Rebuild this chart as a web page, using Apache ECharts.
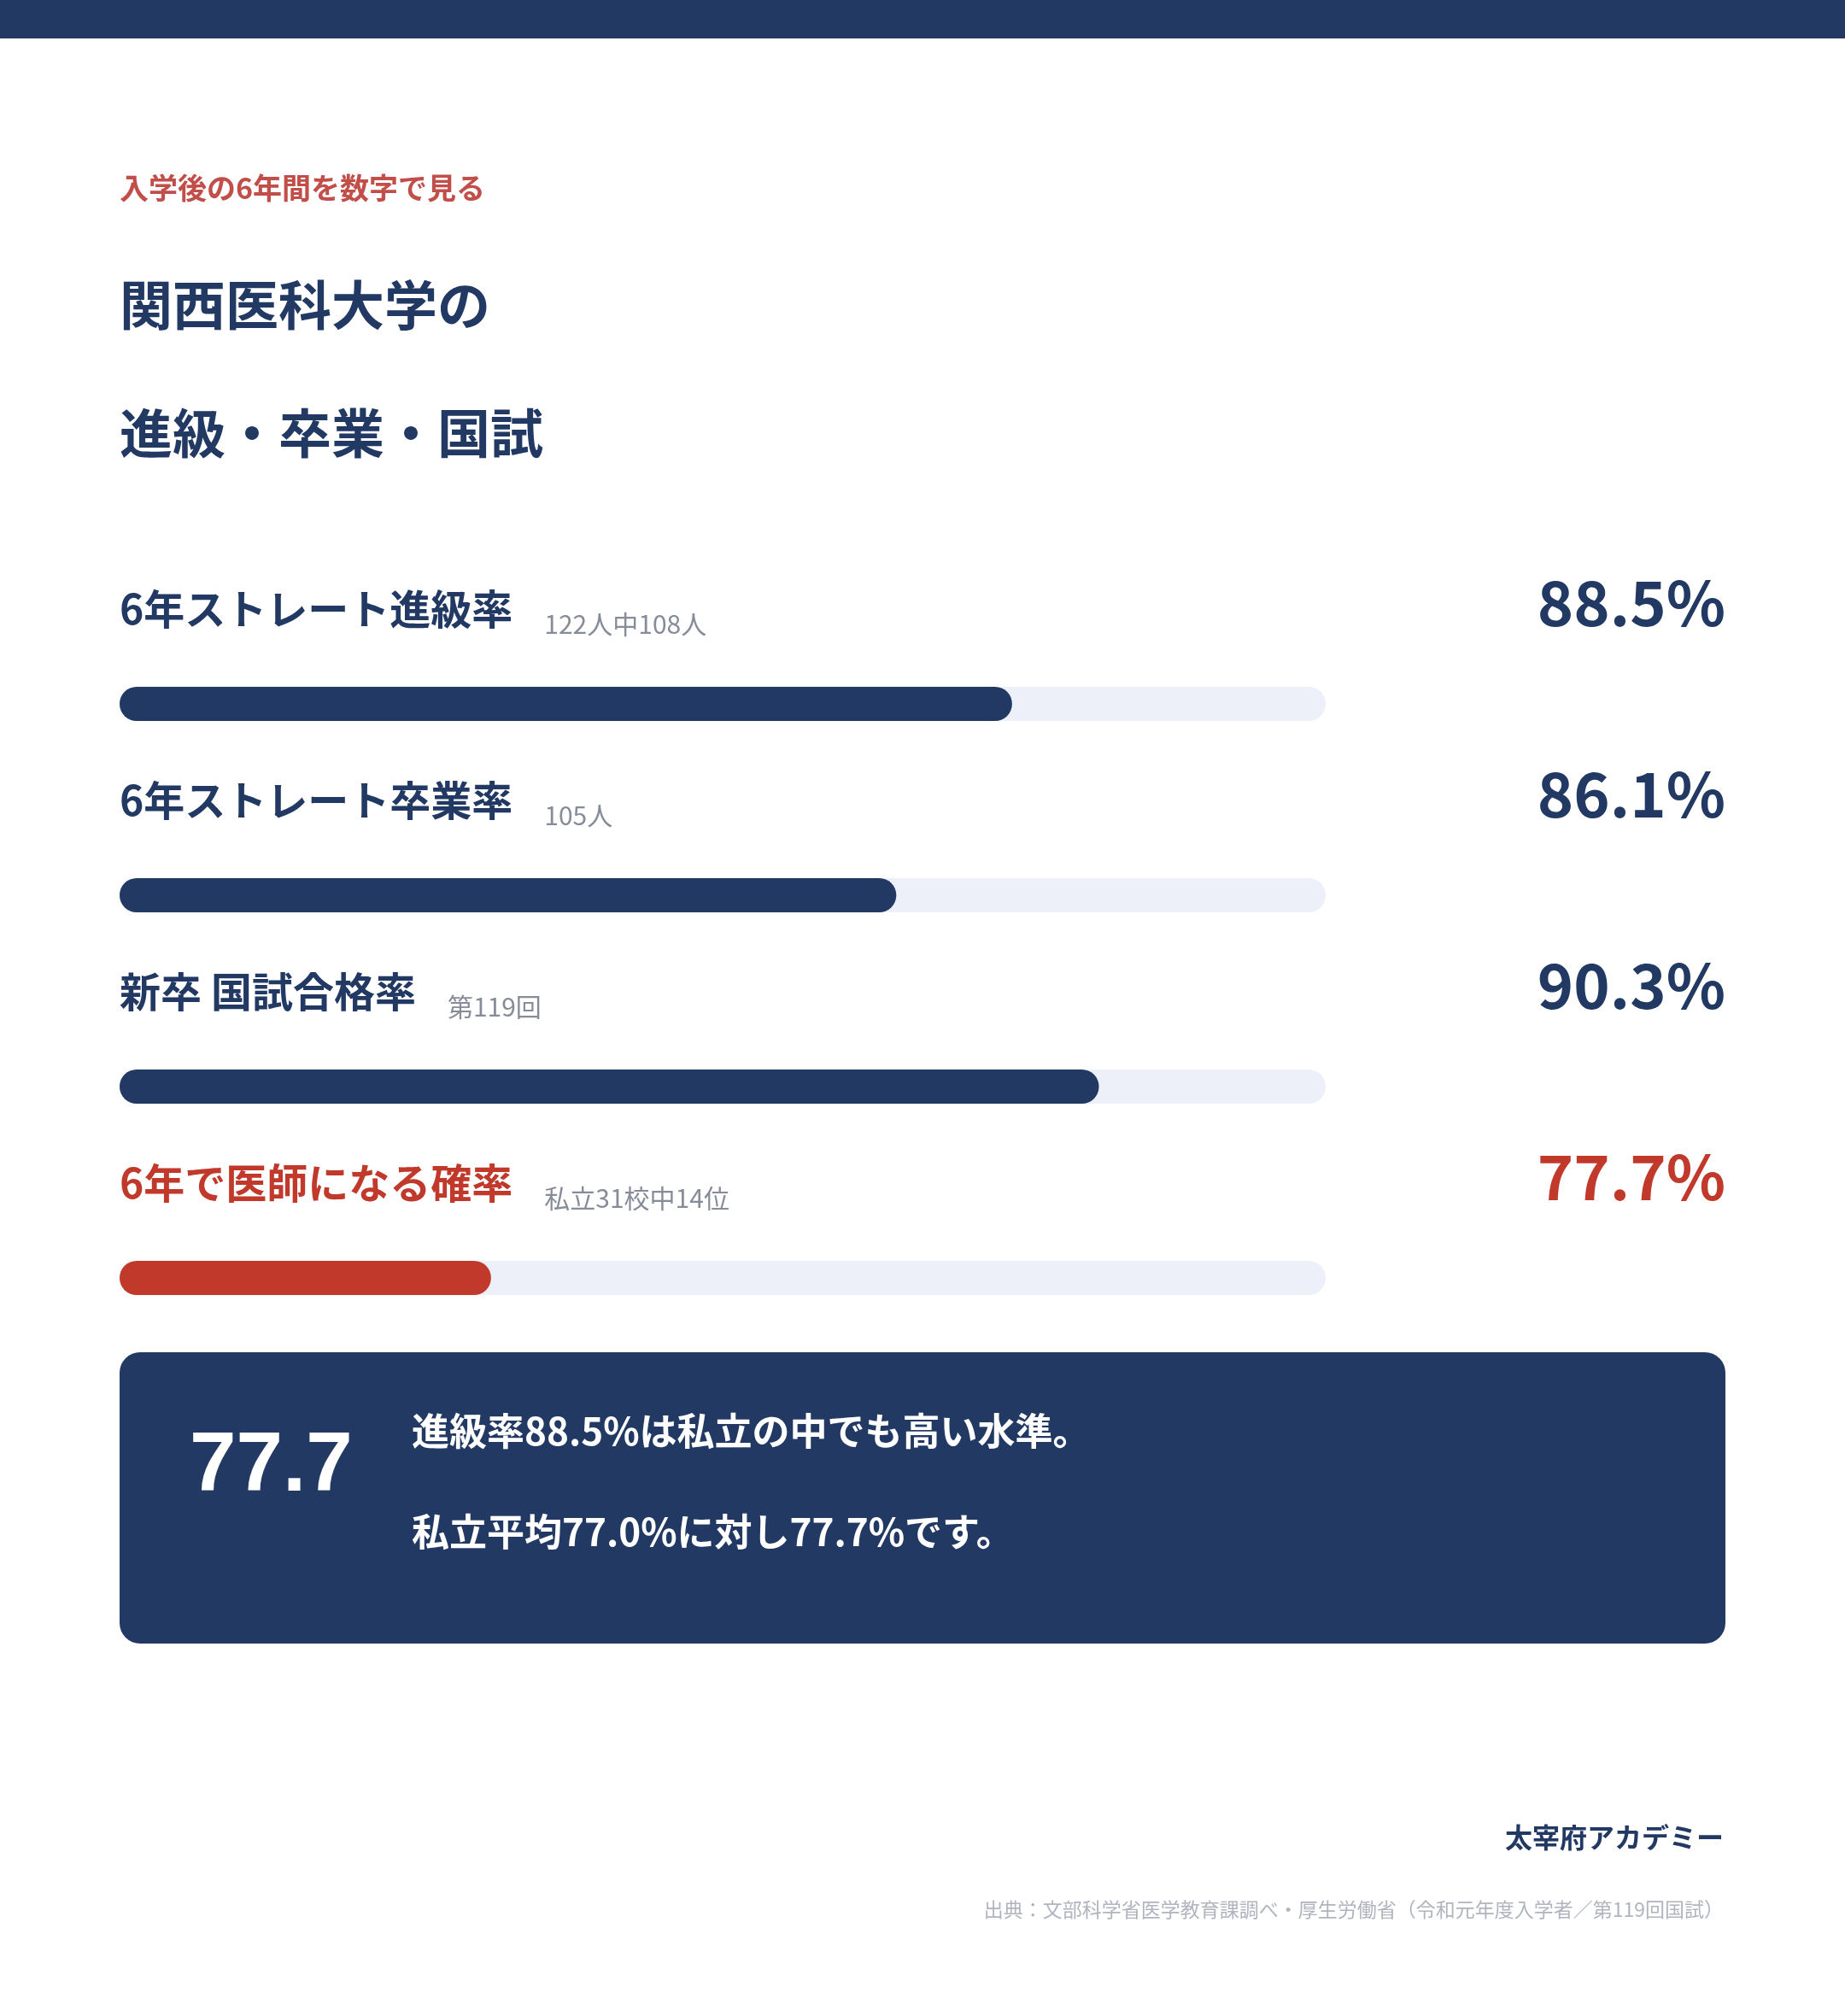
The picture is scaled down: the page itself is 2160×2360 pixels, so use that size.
<!DOCTYPE html>
<html><head><meta charset="utf-8">
<script src="https://cdn.jsdelivr.net/npm/echarts@6/dist/echarts.min.js"></script>
<style>html,body{margin:0;padding:0;background:#fff}#c{width:2160px;height:2360px}</style>
</head><body><div id="c"></div>
<script>
// ---- data ----
const categories = ['6年ストレート進級率', '6年ストレート卒業率', '新卒 国試合格率', '6年で医師になる確率'];
const subLabels = ['122人中108人', '105人', '第119回', '私立31校中14位'];
const rates = [88.5, 86.1, 90.3, 77.7];
const highlightIndex = 3;
const axisMin = 70;
const axisMax = 95;
const kicker = '入学後の6年間を数字で見る';
const titleLines = ['関西医科大学の', '進級・卒業・国試'];
const calloutValue = '77.7';
const calloutLines = ['進級率88.5%は私立の中でも高い水準。', '私立平均77.0%に対し77.7%です。'];
const brand = '太宰府アカデミー';
const sourceNote = '出典：文部科学省医学教育課調べ・厚生労働省（令和元年度入学者／第119回国試）';

// ---- styles ----
const NAVY = '#213963';
const RED = '#c0392b';
const TRACK = '#edf0f8';
const GRAY = '#868c98';
const JP = '"Noto Sans CJK JP", "Noto Sans", sans-serif';

const chart = echarts.init(document.getElementById('c'), null, {renderer: 'canvas'});

function txt(text, x, y, size, color, weight, align, family) {
  return {
    type: 'text', silent: true,
    style: {
      text: text, x: x, y: y, fontSize: size, fontWeight: weight || 'bold',
      fontFamily: family || JP, fill: color,
      align: align || 'left', verticalAlign: 'middle',
      textAlign: align || 'left', textVerticalAlign: 'middle'
    }
  };
}

const option = {
  backgroundColor: '#ffffff',
  animation: false,
  grid: {left: 140, width: 1412, top: 712, height: 896, containLabel: false},
  xAxis: {type: 'value', min: axisMin, max: axisMax, startValue: axisMin, show: false},
  yAxis: {type: 'category', data: categories, inverse: true, show: false},
  series: [{
    type: 'bar',
    barWidth: 40,
    silent: true,
    clip: false,
    data: rates.map((v, i) => ({value: v, itemStyle: {color: i === highlightIndex ? RED : NAVY, borderRadius: 20}})),
    showBackground: true,
    backgroundStyle: {color: TRACK, borderRadius: 20},
    label: {
      show: true,
      position: [0, -91],
      align: 'left',
      verticalAlign: 'middle',
      width: 1880,
      overflow: 'none',
      textBorderWidth: 0,
      formatter: function (p) {
        const hi = p.dataIndex === highlightIndex;
        return '{' + (hi ? 'nr' : 'n') + '|' + categories[p.dataIndex] + '}' +
               '{s|' + subLabels[p.dataIndex] + '}' +
               '{' + (hi ? 'vr' : 'v') + '|' + rates[p.dataIndex].toFixed(1) + '%}';
      },
      rich: {
        n: {fontSize: 48, fontWeight: 'bold', fontFamily: JP, color: NAVY, lineHeight: 56, verticalAlign: 'middle', textBorderWidth: 0},
        nr: {fontSize: 48, fontWeight: 'bold', fontFamily: JP, color: RED, lineHeight: 56, verticalAlign: 'middle', textBorderWidth: 0},
        s: {fontSize: 30, fontWeight: 'normal', fontFamily: JP, color: GRAY, lineHeight: 36, padding: [36, 0, 0, 37], verticalAlign: 'middle', textBorderWidth: 0},
        v: {fontSize: 72, fontWeight: 'bold', fontFamily: JP, color: NAVY, lineHeight: 80, padding: [0, 0, 14, 0], align: 'right', verticalAlign: 'middle', textBorderWidth: 0},
        vr: {fontSize: 72, fontWeight: 'bold', fontFamily: JP, color: RED, lineHeight: 80, padding: [0, 0, 14, 0], align: 'right', verticalAlign: 'middle', textBorderWidth: 0}
      }
    }
  }],
  graphic: [
    {type: 'rect', silent: true, shape: {x: 0, y: 0, width: 2160, height: 45}, style: {fill: NAVY}},
    txt(kicker, 140, 220, 34, '#c24e4a'),
    txt(titleLines[0], 140, 357, 62, NAVY),
    txt(titleLines[1], 140, 507, 62, NAVY),
    {type: 'rect', silent: true, shape: {x: 140, y: 1583, width: 1880, height: 341, r: 24}, style: {fill: NAVY}},
    txt(calloutValue, 222, 1718, 98, '#ffffff', 'bold', 'left', '"Liberation Sans", Arial, sans-serif'),
    txt(calloutLines[0], 482, 1675, 44, '#ffffff'),
    txt(calloutLines[1], 482, 1793, 44, '#ffffff'),
    txt(brand, 2018, 2151, 32, NAVY, 'bold', 'right'),
    txt(sourceNote, 2018, 2235, 23, '#b0b4bf', 'normal', 'right')
  ]
};
chart.setOption(option);
</script>
</body></html>
